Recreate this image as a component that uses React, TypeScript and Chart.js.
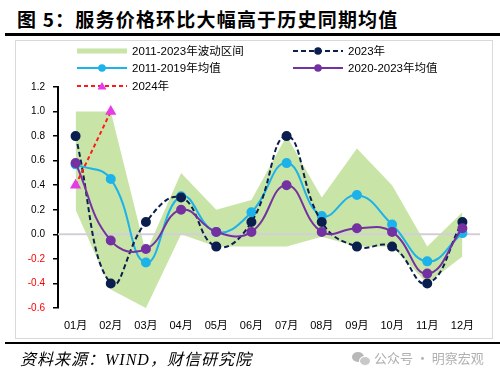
import React, { useEffect, useRef } from 'react';
import { Chart, registerables } from 'chart.js';

Chart.register(...registerables);

const months = ['01月', '02月', '03月', '04月', '05月', '06月', '07月', '08月', '09月', '10月', '11月', '12月'];
const bandUpper = [1.0, 1.0, -0.15, 0.5, 0.2, 0.28, 0.8, 0.3, 0.7, 0.4, -0.1, 0.18];
const bandLower = [0.2, -0.45, -0.6, 0.0, -0.1, -0.1, -0.1, -0.02, -0.1, -0.1, -0.4, -0.18];
const values2023 = [0.8, -0.4, 0.1, 0.3, -0.1, 0.1, 0.8, 0.1, -0.1, -0.1, -0.4, 0.1];
const avg2011to2019 = [0.57, 0.45, -0.23, 0.31, 0.02, 0.18, 0.58, 0.15, 0.32, 0.08, -0.22, 0.01];
const avg2020to2023 = [0.58, -0.05, -0.12, 0.2, 0.02, 0.02, 0.4, 0.02, 0.05, 0.02, -0.32, 0.05];
const values2024 = [0.4, 1.0, null, null, null, null, null, null, null, null, null, null];
const yMin = -0.6;
const yMax = 1.2;
const yStep = 0.2;

const C_BAND = 'rgb(200,228,166)';
const C_NAVY = '#0b1f4e';
const C_CYAN = '#1cb2ea';
const C_PURPLE = '#7331a1';
const C_RED = '#ff1a1a';
const C_MAGENTA = '#e83be8';

const BAND_INDEX = 5;

const zeroLinePlugin = {
  id: 'zeroLine',
  afterDatasetDraw(chart: any, args: any) {
    if (args.index !== BAND_INDEX) return;
    const { ctx, chartArea, scales } = chart;
    const y = scales.y.getPixelForValue(0);
    ctx.save();
    ctx.strokeStyle = '#d3cfd6';
    ctx.lineWidth = 2;
    ctx.beginPath();
    ctx.moveTo(chartArea.left, y);
    ctx.lineTo(chartArea.right, y);
    ctx.stroke();
    ctx.restore();
  },
};

const LegendSample = ({ kind }: { kind: string }) => {
  if (kind === 'band') {
    return (
      <svg width={50} height={12}>
        <rect x={0} y={3.5} width={50} height={5} fill={C_BAND} />
      </svg>
    );
  }
  const color = kind === '2023' ? C_NAVY : kind === 'cyan' ? C_CYAN : kind === 'purple' ? C_PURPLE : C_RED;
  const dash = kind === '2023' ? '5,3' : kind === '2024' ? '4,3' : undefined;
  return (
    <svg width={50} height={12}>
      <line x1={0} y1={6} x2={50} y2={6} stroke={color} strokeWidth={2} strokeDasharray={dash} />
      {kind === '2024' ? (
        <polygon points="25,2 29.5,9.5 20.5,9.5" fill={C_MAGENTA} />
      ) : (
        <circle cx={25} cy={6} r={3.8} fill={color} />
      )}
    </svg>
  );
};

const legendItems = [
  { kind: 'band', text: '2011-2023年波动区间', x: 77, y: 51 },
  { kind: '2023', text: '2023年', x: 293, y: 51 },
  { kind: 'cyan', text: '2011-2019年均值', x: 77, y: 68 },
  { kind: 'purple', text: '2020-2023年均值', x: 293, y: 68 },
  { kind: '2024', text: '2024年', x: 77, y: 86 },
];

export default function App() {
  const canvasRef = useRef<HTMLCanvasElement | null>(null);

  useEffect(() => {
    const canvas = canvasRef.current;
    if (!canvas) return;
    const pointCommon = { pointRadius: 4, pointHoverRadius: 4, borderWidth: 2 };
    const chart = new Chart(canvas, {
      type: 'line',
      data: {
        labels: months,
        datasets: [
          {
            label: '2024年',
            data: values2024,
            borderColor: C_RED,
            borderDash: [4, 3],
            backgroundColor: C_MAGENTA,
            pointBackgroundColor: C_MAGENTA,
            pointBorderColor: C_MAGENTA,
            pointStyle: 'triangle',
            tension: 0,
            spanGaps: false,
            ...pointCommon,
            pointRadius: 4.5,
          },
          {
            label: '2020-2023年均值',
            data: avg2020to2023,
            borderColor: C_PURPLE,
            backgroundColor: C_PURPLE,
            pointBackgroundColor: C_PURPLE,
            pointBorderColor: C_PURPLE,
            tension: 0.45,
            ...pointCommon,
          },
          {
            label: '2023年',
            data: values2023,
            borderColor: C_NAVY,
            borderDash: [5, 3],
            backgroundColor: C_NAVY,
            pointBackgroundColor: C_NAVY,
            pointBorderColor: C_NAVY,
            tension: 0.45,
            ...pointCommon,
          },
          {
            label: '2011-2019年均值',
            data: avg2011to2019,
            borderColor: C_CYAN,
            backgroundColor: C_CYAN,
            pointBackgroundColor: C_CYAN,
            pointBorderColor: C_CYAN,
            tension: 0.45,
            ...pointCommon,
          },
          {
            label: 'lower',
            data: bandLower,
            borderColor: 'rgba(0,0,0,0)',
            backgroundColor: 'rgba(0,0,0,0)',
            pointRadius: 0,
            borderWidth: 0,
            tension: 0,
            fill: false,
          },
          {
            label: '2011-2023年波动区间',
            data: bandUpper,
            borderColor: 'rgba(0,0,0,0)',
            backgroundColor: C_BAND,
            pointRadius: 0,
            borderWidth: 0,
            tension: 0,
            fill: '-1',
          },
        ],
      },
      options: {
        responsive: false,
        animation: false,
        devicePixelRatio: 1,
        layout: { padding: { top: 87, right: 20, left: 0, bottom: 0 } },
        plugins: {
          legend: { display: false },
          tooltip: { enabled: false },
        },
        scales: {
          x: {
            offset: true,
            grid: { display: false, drawTicks: false },
            border: { display: false },
            ticks: {
              padding: 11,
              color: '#000',
              font: { family: '"Liberation Sans", "Noto Sans CJK SC", sans-serif', size: 11 },
              maxRotation: 0,
              autoSkip: false,
            },
            afterFit: (s: any) => {
              s.height = 67;
            },
          },
          y: {
            min: yMin,
            max: yMax,
            grid: {
              drawOnChartArea: false,
              drawTicks: true,
              tickLength: 5,
              color: '#000',
              lineWidth: 1.5,
            },
            border: { display: true, color: '#000', width: 2 },
            ticks: {
              stepSize: yStep,
              padding: 8,
              color: (ctx: any) => (ctx.tick && ctx.tick.value < -1e-9 ? '#ff0000' : '#000'),
              font: { family: '"Liberation Sans", sans-serif', size: 10 },
              callback: (v: any) => Number(v).toFixed(1),
            },
            afterFit: (s: any) => {
              s.width = 58;
            },
          },
        },
      },
      plugins: [zeroLinePlugin],
    } as any);
    return () => chart.destroy();
  }, []);

  return (
    <div
      style={{
        position: 'absolute',
        left: 0,
        top: 0,
        width: 500,
        height: 375,
        background: '#fff',
        overflow: 'hidden',
        fontFamily: '"Liberation Sans", "Noto Sans CJK SC", sans-serif',
      }}
    >
      <div
        style={{
          position: 'absolute',
          left: 17,
          top: 6,
          fontFamily: '"Noto Sans CJK SC", sans-serif',
          fontWeight: 700,
          fontSize: 19,
          letterSpacing: 1.2,
          lineHeight: '26px',
          color: '#000',
          whiteSpace: 'nowrap',
        }}
      >
        图 5：服务价格环比大幅高于历史同期均值
      </div>
      <div style={{ position: 'absolute', left: 5, top: 33, width: 495, height: 3, background: '#000' }} />
      <div
        style={{
          position: 'absolute',
          left: 15,
          top: 40,
          width: 478,
          height: 299,
          border: '1px solid #d9d9d9',
          boxSizing: 'border-box',
        }}
      />
      <canvas
        ref={canvasRef}
        width={500}
        height={375}
        style={{ position: 'absolute', left: 0, top: 0, width: 500, height: 375 }}
      />
      {legendItems.map((it) => (
        <React.Fragment key={it.text}>
          <div style={{ position: 'absolute', left: it.x, top: it.y - 6, width: 50, height: 12, lineHeight: 0 }}>
            <LegendSample kind={it.kind} />
          </div>
          <div
            style={{
              position: 'absolute',
              left: it.x + 55,
              top: it.y - 8,
              fontSize: 11.5,
              lineHeight: '16px',
              color: '#000',
              whiteSpace: 'nowrap',
            }}
          >
            {it.text}
          </div>
        </React.Fragment>
      ))}
      <div style={{ position: 'absolute', left: 5, top: 342, width: 495, height: 2, background: '#000' }} />
      <div
        style={{
          position: 'absolute',
          left: 20,
          top: 349,
          fontFamily: '"Liberation Serif", "Noto Sans CJK SC", serif',
          fontStyle: 'italic',
          fontSize: 16,
          letterSpacing: 1,
          lineHeight: '22px',
          color: '#000',
          whiteSpace: 'nowrap',
        }}
      >
        资料来源：WIND，财信研究院
      </div>
      <div style={{ position: 'absolute', left: 352, top: 351, width: 20, height: 14 }}>
        <div style={{ position: 'absolute', left: 0, top: 1, width: 12, height: 10, borderRadius: '50%', background: '#b8b8b8' }} />
        <div style={{ position: 'absolute', left: 7, top: 5, width: 10, height: 8, borderRadius: '50%', background: '#c8c8c8', border: '1px solid #fff' }} />
      </div>
      <div
        style={{
          position: 'absolute',
          left: 374,
          top: 349,
          fontFamily: '"Noto Sans CJK SC", sans-serif',
          fontSize: 13,
          lineHeight: '18px',
          color: '#b0b0b0',
          whiteSpace: 'nowrap',
        }}
      >
        公众号 · 明察宏观
      </div>
    </div>
  );
}
